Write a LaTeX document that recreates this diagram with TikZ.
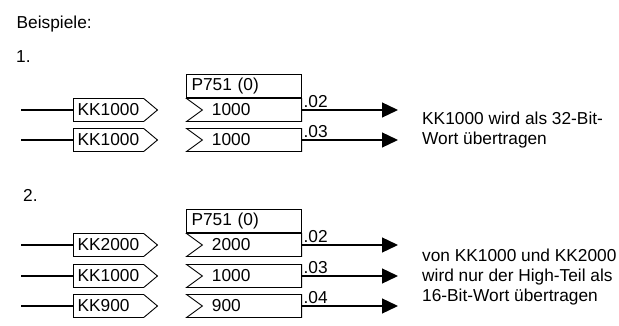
\documentclass[tikz,border=0pt]{standalone}
\usepackage{fontspec}
\setmainfont{Liberation Sans}
\usetikzlibrary{arrows.meta, positioning, shapes.symbols}

\begin{document}
\begin{tikzpicture}[
        x=1pt, y=-1pt,
        font=\fontsize{17.3}{20}\selectfont,
        kkbox/.style={signal, signal to=east, signal pointer angle=80, draw, line width=0.9pt, minimum width=84pt, minimum height=23pt, text width=62pt, align=left, inner xsep=4pt, inner ysep=0pt},
        parbox/.style={signal, signal from=west, signal to=nowhere, signal pointer angle=72, draw, line width=0.9pt, minimum width=115pt, minimum height=23pt, text width=80pt, align=left, inner xsep=4pt, inner ysep=0pt},
        headbox/.style={rectangle, draw, line width=0.9pt, minimum width=115pt, minimum height=23pt, text width=105pt, align=left, inner xsep=5pt, inner ysep=0pt},
        wire/.style={line width=1.1pt},
        arrow/.style={-{Triangle[length=16pt, width=15pt]}, line width=1.3pt},
        idx/.style={anchor=south west, inner xsep=1pt, inner ysep=1.5pt},
        note/.style={anchor=west, align=left, inner sep=0pt}
    ]
    \useasboundingbox (0,0) rectangle (619,326);
    \node[anchor=west, inner sep=0pt] (title) at (16.5,24) {Beispiele:};
    \node[anchor=west, inner sep=0pt] (ex1) at (16,57) {1.};
    \node[kkbox, anchor=west] (k11) at (73,110) {KK1000};
    \node[kkbox, anchor=west] (k12) at (73,140) {KK1000};
    \node[parbox, anchor=east] (p11) at (302,110) {1000};
    \node[parbox, anchor=east] (p12) at (302,140) {1000};
    \node[headbox, anchor=south east] (h1) at (p11.north east) {P751 (0)};
    \coordinate (in11) at (21,110);
    \coordinate (in12) at (21,140);
    \coordinate (out11) at (398,110);
    \coordinate (out12) at (398,140);
    \draw[wire] (in11) -- (k11.west);
    \draw[wire] (in12) -- (k12.west);
    \draw[arrow] (p11.east) -- node[idx, pos=0] {.02} (out11);
    \draw[arrow] (p12.east) -- node[idx, pos=0] {.03} (out12);
    \node[note] (txt1) at (422,130) {KK1000 wird als 32-Bit-\\Wort übertragen};

    \node[anchor=west, inner sep=0pt] (ex2) at (23,195) {2.};
    \node[kkbox, anchor=west] (k21) at (73,245) {KK2000};
    \node[kkbox, anchor=west] (k22) at (73,276) {KK1000};
    \node[kkbox, anchor=west] (k23) at (73,306) {KK900};
    \node[parbox, anchor=east] (p21) at (302,245) {2000};
    \node[parbox, anchor=east] (p22) at (302,276) {1000};
    \node[parbox, anchor=east] (p23) at (302,306) {900};
    \node[headbox, anchor=south east] (h2) at (p21.north east) {P751 (0)};
    \coordinate (in21) at (21,245);
    \coordinate (in22) at (21,276);
    \coordinate (in23) at (21,306);
    \coordinate (out21) at (398,245);
    \coordinate (out22) at (398,276);
    \coordinate (out23) at (398,306);
    \draw[wire] (in21) -- (k21.west);
    \draw[wire] (in22) -- (k22.west);
    \draw[wire] (in23) -- (k23.west);
    \draw[arrow] (p21.east) -- node[idx, pos=0] {.02} (out21);
    \draw[arrow] (p22.east) -- node[idx, pos=0] {.03} (out22);
    \draw[arrow] (p23.east) -- node[idx, pos=0] {.04} (out23);
    \node[note] (txt2) at (422,277) {von KK1000 und KK2000\\wird nur der High-Teil als\\16-Bit-Wort übertragen};
\end{tikzpicture}
\end{document}
